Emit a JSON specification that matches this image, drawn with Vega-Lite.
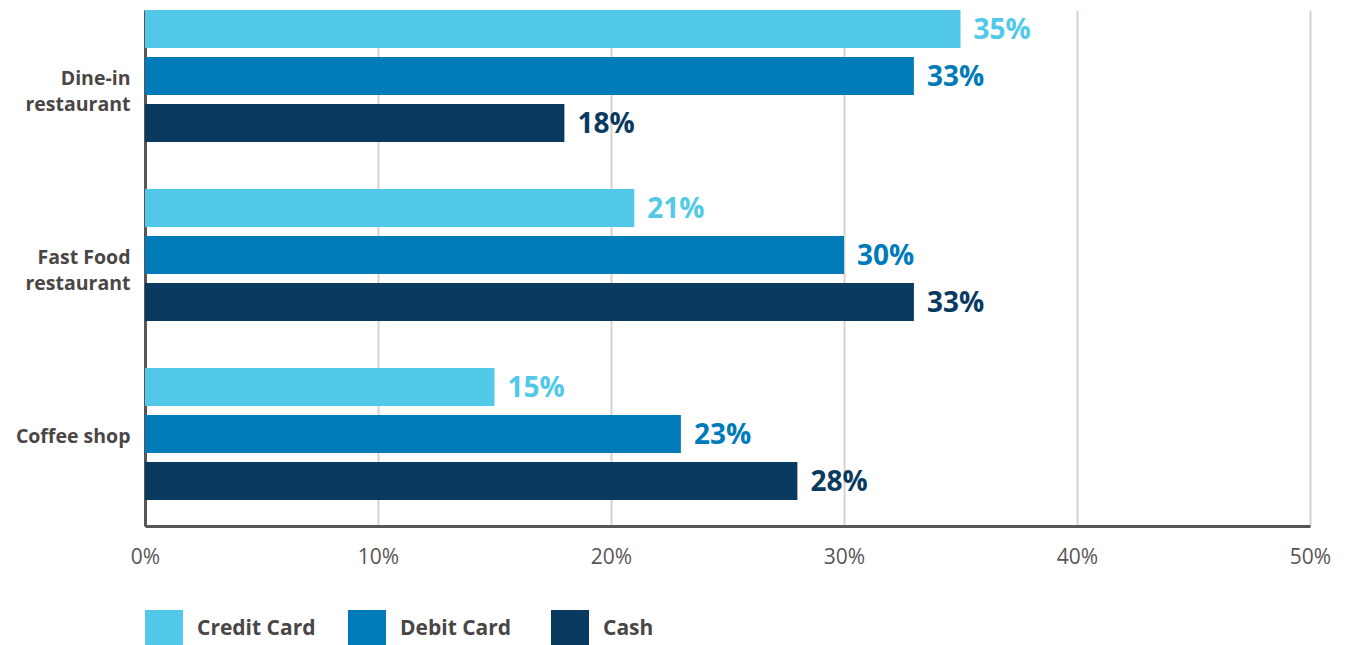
{
  "$schema": "https://vega.github.io/schema/vega-lite/v6.json",
  "autosize": {"type": "none"},
  "width": 1165,
  "height": 516,
  "padding": {"left": 145, "top": 10, "right": 40, "bottom": 119},
  "background": "white",
  "config": {
    "view": {"stroke": null},
    "font": "Open Sans"
  },
  "data": {
    "values": [
      {"venue": "Dine-in restaurant", "method": "Credit Card", "share": 0.35},
      {"venue": "Dine-in restaurant", "method": "Debit Card", "share": 0.33},
      {"venue": "Dine-in restaurant", "method": "Cash", "share": 0.18},
      {"venue": "Fast Food restaurant", "method": "Credit Card", "share": 0.21},
      {"venue": "Fast Food restaurant", "method": "Debit Card", "share": 0.30},
      {"venue": "Fast Food restaurant", "method": "Cash", "share": 0.33},
      {"venue": "Coffee shop", "method": "Credit Card", "share": 0.15},
      {"venue": "Coffee shop", "method": "Debit Card", "share": 0.23},
      {"venue": "Coffee shop", "method": "Cash", "share": 0.28}
    ]
  },
  "encoding": {
    "y": {
      "field": "venue",
      "type": "nominal",
      "sort": ["Dine-in restaurant", "Fast Food restaurant", "Coffee shop"],
      "scale": {"paddingInner": 0.2626, "paddingOuter": 0.0726, "align": 0},
      "axis": {
        "title": null,
        "domain": true,
        "domainColor": "#5a5555",
        "domainWidth": 3,
        "ticks": false,
        "labelPadding": 15,
        "labelOffset": 3,
        "labelFontSize": 19.5,
        "labelFontWeight": "bold",
        "labelColor": "#4a4646",
        "labelLineHeight": 26,
        "labelExpr": "indexof(datum.label, ' restaurant') > 0 ? [replace(datum.label, ' restaurant', ''), 'restaurant'] : datum.label"
      }
    },
    "yOffset": {
      "field": "method",
      "type": "nominal",
      "sort": ["Credit Card", "Debit Card", "Cash"],
      "scale": {"paddingInner": 0.19, "paddingOuter": 0}
    },
    "x": {
      "field": "share",
      "type": "quantitative",
      "scale": {"domain": [0, 0.5], "nice": false},
      "axis": {
        "title": null,
        "format": ".0%",
        "values": [0, 0.1, 0.2, 0.3, 0.4, 0.5],
        "labelOverlap": false,
        "grid": true,
        "gridColor": "#d8d2cb",
        "gridWidth": 2,
        "domainColor": "#5a5555",
        "domainWidth": 3,
        "ticks": false,
        "labelPadding": 20,
        "labelFontSize": 21,
        "labelColor": "#5a5555",
        "labelFlush": false
      }
    },
    "color": {
      "field": "method",
      "type": "nominal",
      "sort": ["Credit Card", "Debit Card", "Cash"],
      "scale": {"domain": ["Credit Card", "Debit Card", "Cash"], "range": ["#52c9e8", "#007bba", "#0a3a5f"]},
      "legend": {
        "title": null,
        "orient": "bottom",
        "direction": "horizontal",
        "offset": 43,
        "symbolType": "square",
        "symbolSize": 1444,
        "symbolStrokeWidth": 0,
        "symbolOpacity": 1,
        "labelFontSize": 21,
        "labelFontWeight": "bold",
        "labelColor": "#4a4646",
        "labelOffset": 14,
        "columnPadding": 32,
        "gridAlign": "all"
      }
    }
  },
  "layer": [
    {"mark": {"type": "bar", "opacity": 1}},
    {
      "mark": {"type": "text", "align": "left", "baseline": "middle", "dx": 13, "dy": 2, "fontSize": 28, "fontWeight": "bold"},
      "encoding": {"text": {"field": "share", "type": "quantitative", "format": ".0%"}}
    }
  ]
}
